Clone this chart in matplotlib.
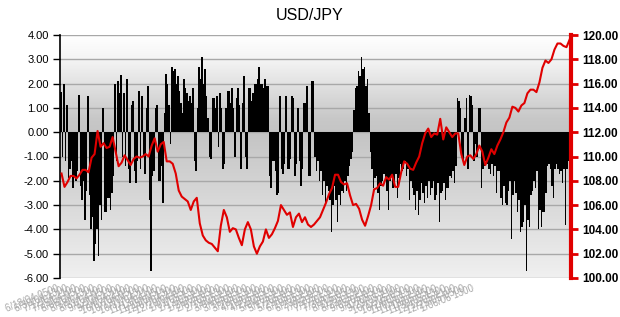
import numpy as np
import pandas as pd
import matplotlib
matplotlib.use('Agg')
import matplotlib.pyplot as plt
import matplotlib.transforms as mtransforms
from matplotlib.colors import LinearSegmentedColormap

plt.rcParams['font.family'] = ['Liberation Sans', 'DejaVu Sans']

# deviation bars (left axis), two bars per 3-pixel slot of the original
bar_vals = [
    1.65, -1.0, 2.0, -1.2, 1.1, -1.9, -1.5, -1.2, -2.3, -1.8,
    -2.0, -1.6, 1.55, -2.2, -2.8, -2.0, -3.6, -2.4, 1.5, -2.6,
    -4.0, -3.5, -5.3, -4.6, -4.0, -5.1, -3.0, -3.6, 1.0, -3.3,
    -3.3, -2.7, -2.7, -3.2, -2.5, -1.8, 2.0, -1.2, 2.1, 1.6,
    2.35, -1.0, 1.6, -1.4, 2.2, -1.5, -2.1, 1.1, 1.3, -1.6,
    -2.1, -1.2, 1.7, -1.5, 1.5, -1.0, -1.7, 1.0, 1.9, -2.8,
    -5.7, -1.8, -1.6, 1.0, 1.1, -2.0, -2.0, -1.4, -2.9, 0.8,
    2.4, 2.0, 1.1, -0.5, 2.7, 2.5, 2.6, 2.0, 2.3, 1.7,
    1.2, 0.8, 2.2, 1.8, 1.6, 1.3, 1.5, 1.2, 1.8, -1.2,
    -1.6, 1.0, 2.7, 2.2, 3.1, 2.0, 2.6, 1.5, 0.6, -1.0,
    -1.1, 1.4, 1.4, 1.0, 1.5, -0.6, 1.6, 1.0, -1.5, -1.3,
    1.0, 1.7, 1.7, 1.2, 1.8, 1.0, -1.0, 1.4, 1.8, 1.1,
    -1.5, 1.2, 2.3, -1.0, -1.5, 1.8, 1.8, 1.3, 1.6, 2.0,
    2.0, 2.2, 2.7, 2.0, 2.0, 1.8, 2.2, 1.9, 1.9, -1.8,
    -2.3, -1.2, -1.2, -1.6, -2.6, -2.5, 1.5, -1.5, -1.7, -1.3,
    1.5, -1.5, -1.5, -1.1, 1.5, 1.4, -1.8, -1.3, 1.0, -1.2,
    -2.2, -1.5, 1.2, 1.2, 1.9, -1.8, -1.8, 2.1, 2.1, -1.0,
    -1.6, -1.2, -2.0, -1.6, -2.6, -2.0, -3.0, -2.2, -2.4, -2.8,
    -4.1, -3.0, -2.2, -2.8, -3.7, -2.6, -3.0, -2.4, -2.5, -2.0,
    -2.4, -1.8, -1.4, -1.1, -0.8, 0.9, 1.8, 1.9, 2.5, 2.3,
    3.1, 2.6, 2.7, 1.9, 2.2, 0.8, -0.8, -1.5, -2.3, -1.9,
    -1.8, -2.5, -3.2, -2.2, -2.0, -1.7, -2.0, -2.4, -3.2, -2.0,
    -1.8, -2.3, -2.1, -1.7, -2.7, -1.9, -1.3, -1.6, -1.5, -1.2,
    -1.8, -1.5, -2.8, -2.0, -2.3, -2.6, -3.2, -2.4, -3.4, -2.8,
    -2.1, -2.5, -2.9, -2.2, -2.7, -2.0, -2.6, -2.3, -2.0, -2.8,
    -2.6, -2.1, -3.7, -2.5, -2.4, -2.1, -2.8, -2.3, -2.3, -1.8,
    -1.9, -1.6, -2.1, -1.4, 1.4, 1.3, 1.0, -1.0, -1.2, 0.6,
    1.4, -1.5, 1.55, 1.5, 1.1, -1.2, -0.5, -1.0, 1.0, 1.0,
    -2.3, -1.5, -1.4, -1.2, -1.3, -1.5, -1.7, -1.3, -1.8, -1.4,
    -2.5, -1.6, -1.6, -2.7, -3.0, -2.2, -2.9, -3.0, -2.4, -2.0,
    -4.4, -2.6, -2.0, -2.5, -3.3, -2.8, -4.1, -3.9, -3.7, -3.0,
    -5.7, -3.6, -3.9, -2.6, -2.4, -2.0, -2.3, -1.6, -4.0, -3.2,
    -3.9, -3.3, -3.3, -2.5, -1.4, -1.3, -1.5, -2.2, -2.7, -1.5,
    -1.3, -1.5, -1.7, -1.6, -2.1, -1.5, -3.8, -1.5, -1.2, -0.5,
]

# USD/JPY rate (right axis), one point per 3-pixel slot
rate = [108.6, 107.5, 107.9, 108.4, 108.4, 108.2, 108.5, 108.9, 108.9, 108.7,
        109.9, 110.2, 112.1, 110.8, 111.1, 110.7, 110.8, 111.6, 110.4, 109.2,
        109.5, 110.1, 109.7, 109.3, 109.8, 110.0, 109.9, 110.0, 110.2, 110.0,
        110.9, 111.5, 110.4, 111.0, 111.2, 109.6, 109.6, 109.4, 108.6, 107.2,
        106.7, 106.5, 106.3, 105.6, 106.3, 106.6, 104.5, 103.5, 103.1, 102.9,
        102.8, 102.5, 102.2, 104.3, 105.6, 105.0, 103.8, 104.1, 104.0, 103.3,
        102.7, 104.0, 104.6, 104.0, 102.6, 102.0, 102.6, 103.0, 104.0, 103.3,
        103.6, 104.1, 104.7, 106.0, 105.6, 105.2, 105.4, 104.2, 105.0, 105.3,
        104.6, 105.0, 104.4, 104.2, 104.4, 104.7, 105.0, 105.6, 106.2, 106.9,
        107.4, 108.5, 108.5, 107.9, 107.7, 107.8, 106.8, 106.0, 106.1, 105.7,
        104.8, 104.3, 105.1, 106.0, 107.3, 107.4, 107.8, 107.6, 108.3, 108.1,
        108.5, 107.5, 107.5, 108.7, 109.6, 109.4, 109.0, 108.9, 109.5, 110.0,
        111.1, 111.9, 112.3, 111.6, 111.9, 111.8, 113.1, 111.4, 112.4, 112.0,
        111.6, 111.9, 111.9, 110.2, 109.3, 110.0, 110.1, 109.8, 110.2, 110.9,
        110.4, 109.3, 109.9, 110.6, 110.2, 110.9, 111.4, 112.0, 112.8, 113.2,
        114.1, 114.0, 113.7, 114.2, 114.4, 115.2, 115.5, 115.5, 115.3, 116.1,
        117.3, 117.9, 117.7, 118.0, 118.8, 119.3, 119.3, 119.1, 119.0, 119.6]

# category labels along the bottom (one every 3 slots)
label_dates = pd.date_range('2004-06-18 05:00', periods=47, freq='12D8h')
tick_labels = [d.strftime('%-m/%d/%y %H00') for d in label_dates]

left_ticks = [-6, -5, -4, -3, -2, -1, 0, 1, 2, 3, 4]
right_ticks = [100, 102, 104, 106, 108, 110, 112, 114, 116, 118, 120]

n = len(rate)
x = np.arange(n)
xb = np.arange(len(bar_vals)) / 2 - 0.25

fig = plt.figure(figsize=(6.2, 3.17), dpi=100)
ax = fig.add_axes([60 / 620, 39 / 317, 511 / 620, 243 / 317])

# grey gradient background, darkest around the zero line
bg = LinearSegmentedColormap.from_list(
    'bg', [(0.0, '#f0f0f0'), (0.35, '#d6d6d6'), (0.6, '#c4c4c4'),
           (0.66, '#c8c8c8'), (0.9, '#f4f4f4'), (1.0, '#ffffff')])
grad = np.linspace(0, 1, 256).reshape(-1, 1)
ax.imshow(grad, aspect='auto', cmap=bg, extent=[-0.5, n - 0.5, -6, 4],
          origin='lower', zorder=0, vmin=0, vmax=1)

for v in left_ticks:
    ax.axhline(v, color='#a8a8a8', lw=1, zorder=1)

ax.bar(xb, bar_vals, width=0.5, color='black', linewidth=0, zorder=2)

ax.set_xlim(-0.5, n - 0.5)
ax.set_ylim(-6, 4)
ax.set_yticks(left_ticks)
ax.set_yticklabels([f'{v:.2f}' for v in left_ticks], fontsize=8)
ax.tick_params(axis='y', direction='out', length=5, width=1, pad=3)
for s in ['top', 'bottom', 'right']:
    ax.spines[s].set_visible(False)
ax.spines['left'].set_linewidth(1.2)

tick_pos = x[:141:3]
ax.set_xticks(tick_pos)
ax.set_xticklabels(tick_labels, rotation=22, ha='right', rotation_mode='anchor',
                   fontsize=7, color='#a8a8a8')
ax.tick_params(axis='x', length=0, pad=4)
offset = mtransforms.ScaledTranslation(-5 / 100, 0, fig.dpi_scale_trans)
for lbl in ax.get_xticklabels():
    lbl.set_transform(lbl.get_transform() + offset)

ax2 = ax.twinx()
ax2.plot(x, rate, color='#e00000', lw=1.5, zorder=3)
ax2.set_ylim(100, 120)
ax2.set_yticks(right_ticks)
ax2.set_yticklabels([f'{v:.2f}' for v in right_ticks], fontsize=8.5, fontweight='bold')
ax2.tick_params(axis='y', direction='out', length=5, width=2, color='#e00000', pad=3)
for s in ['top', 'bottom', 'left']:
    ax2.spines[s].set_visible(False)
ax2.spines['right'].set_color('#e00000')
ax2.spines['right'].set_linewidth(3)

fig.text(0.5, 1 - 16 / 317, 'USD/JPY', ha='center', va='center', fontsize=11.5)

fig.savefig('out.png', dpi=100)
